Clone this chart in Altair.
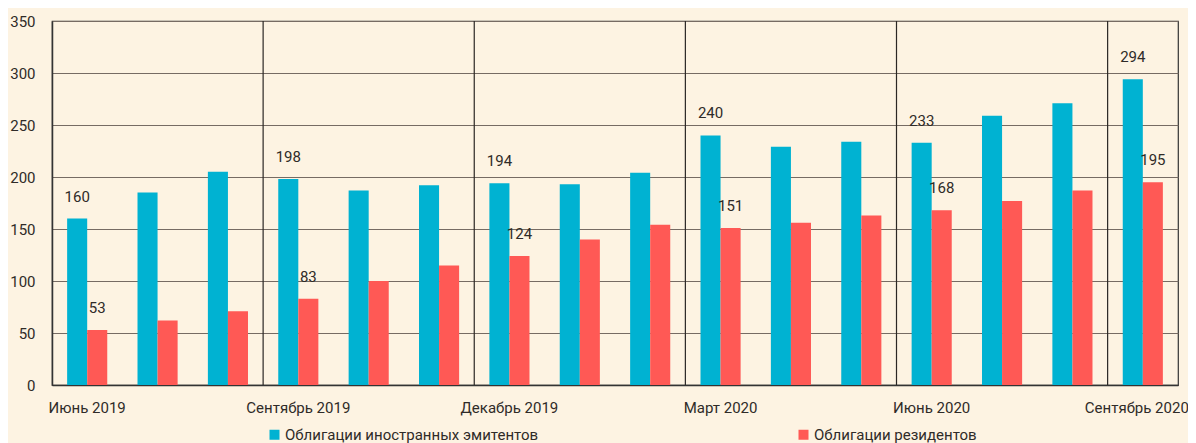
import altair as alt
import pandas as pd

periods = ["Июнь 2019", "Июль 2019", "Август 2019", "Сентябрь 2019", "Октябрь 2019",
           "Ноябрь 2019", "Декабрь 2019", "Январь 2020", "Февраль 2020", "Март 2020",
           "Апрель 2020", "Май 2020", "Июнь 2020", "Июль 2020", "Август 2020", "Сентябрь 2020"]
shown_labels = ["Июнь 2019", "Сентябрь 2019", "Декабрь 2019", "Март 2020", "Июнь 2020", "Сентябрь 2020"]
series_names = ["Облигации иностранных эмитентов", "Облигации резидентов"]
foreign = [160, 185, 205, 198, 187, 192, 194, 193, 204, 240, 229, 234, 233, 259, 271, 294]
residents = [53, 62, 71, 83, 100, 115, 124, 140, 154, 151, 156, 163, 168, 177, 187, 195]
quarter_bounds = [3, 6, 9, 12, 15]
colors = ["#00B2D2", "#FF5955"]

rows = []
for i, p in enumerate(periods):
    rows.append({"period": p, "series": series_names[0], "value": foreign[i]})
    rows.append({"period": p, "series": series_names[1], "value": residents[i]})
df = pd.DataFrame(rows)
bounds_df = pd.DataFrame({"b": quarter_bounds})

TXT = "#2f2b28"
FONT = "Roboto"

label_expr = "indexof([" + ",".join("'%s'" % s for s in shown_labels) + "], datum.value) >= 0 ? datum.value : ''"

x_enc = alt.X("period:N", sort=periods, title=None,
              scale=alt.Scale(paddingInner=0.43, paddingOuter=0.215),
              axis=alt.Axis(labelAngle=0, ticks=False, labelExpr=label_expr, labelPadding=15,
                            labelFontSize=15, labelColor=TXT, labelFont=FONT,
                            labelOffset={"condition": {"test": "datum.value == '%s'" % periods[-1], "value": -6}, "value": 0},
                            domainColor="#333", domainWidth=1.5, grid=False, labelOverlap=False))
xoff = alt.XOffset("series:N", sort=series_names, scale=alt.Scale(paddingInner=0, paddingOuter=0))
y_enc = alt.Y("value:Q", title=None,
              scale=alt.Scale(domain=[0, 350], nice=False),
              axis=alt.Axis(values=list(range(0, 351, 50)), ticks=False, labelPadding=17,
                            labelFontSize=15, labelColor=TXT, labelFont=FONT,
                            domainColor="#333", domainWidth=1.5,
                            gridColor="#766b63", gridWidth=1.2, gridOpacity=1))

base = alt.Chart(df).encode(x=x_enc, xOffset=xoff, y=y_enc)

bars = base.mark_bar().encode(
    color=alt.Color("series:N", sort=series_names,
                    scale=alt.Scale(domain=series_names, range=colors),
                    legend=alt.Legend(title=None, orient="none", direction="horizontal",
                                      legendX=215, legendY=406, symbolType="square",
                                      symbolSize=100, symbolStrokeWidth=0, labelOffset=3,
                                      labelFontSize=15, labelColor=TXT, labelFont=FONT,
                                      columnPadding=257, padding=0, labelLimit=400)),
)

labels = base.transform_filter(
    alt.FieldOneOfPredicate(field="period", oneOf=shown_labels)
).mark_text(baseline="bottom", dy=-14, fontSize=15, color=TXT, font=FONT).encode(
    text="value:Q")

rules = alt.Chart(bounds_df).mark_rule(color="#2b2724", strokeWidth=1.2).encode(
    x=alt.X("b:Q", scale=alt.Scale(domain=[0, 16], nice=False, zero=False), axis=None),
)

chart = alt.layer(alt.layer(bars, labels), rules).resolve_scale(x="independent").properties(
    width=1126, height=364,
    background="#FDF3E2",
    padding={"left": 44, "top": 13, "right": 10, "bottom": 58},
    autosize=alt.AutoSizeParams(type="none"),
).configure_view(stroke="#333", strokeWidth=1.2)

chart.save("out.html", embed_options={"renderer": "svg", "actions": False})
